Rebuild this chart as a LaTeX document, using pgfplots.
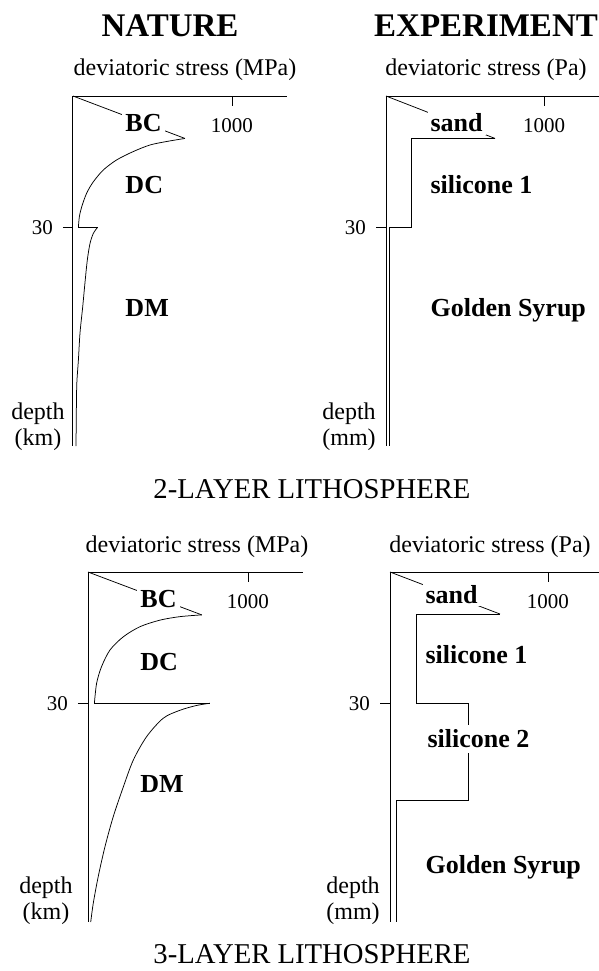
\documentclass[border=0pt]{standalone}
\usepackage{fontspec}
\setmainfont{Liberation Serif}
\usepackage{pgfplots}
\pgfplotsset{compat=1.18}

\pgfplotsset{
  panel/.style={
    scale only axis,
    anchor=north west,
    height=350pt,
    ymin=0, ymax=80, y dir=reverse,
    xmin=0,
    axis x line*=top, axis y line*=left,
    axis line style={line width=1pt, -},
    xtick={1000}, xticklabels={1000},
    ytick={30}, yticklabels={30},
    xtick align=inside, ytick align=outside,
    major tick length=10pt,
    tick style={line width=0.9pt, black},
    xticklabel style={anchor=north, inner sep=0pt, yshift=-22pt, font=\fontsize{21}{21}\selectfont},
    yticklabel style={anchor=east, inner sep=0pt, xshift=-10pt, font=\fontsize{21}{21}\selectfont},
    clip=false,
  },
}
\tikzset{
  curve/.style={black, line width=0.75pt},
  lab/.style={font=\fontsize{26}{26}\selectfont\bfseries, anchor=base west, inner sep=3pt, fill=white},
}

\begin{document}
\begin{tikzpicture}
\useasboundingbox (0,0) rectangle (599pt,-971pt);

% ---------- 2-layer, nature ----------
\begin{axis}[panel, at={(73pt,-96pt)}, width=214pt, xmax=1346]
\addplot[curve] coordinates {(0,0) (704,9.7)};
\addplot[curve, smooth] coordinates {(704,9.7) (589,10.4) (484,11.2) (379,12.7) (275,14.6) (191,16.9) (128,19.6) (86,22.2) (55,25.3) (40,27.6) (34,30)};
\addplot[curve] coordinates {(34,30) (155,30)};
\addplot[curve, smooth] coordinates {(155,30) (128,31.4) (107,33.7) (90,37.5) (75,42.8) (61,48.2) (44,54.2) (34,60.3) (24,65.7) (21,72) (19,80)};
\node[lab] at (axis cs:310,8.0) {BC};
\node[lab, fill=none] at (axis cs:310,22.2) {DC};
\node[lab, fill=none] at (axis cs:310,50.5) {DM};
\end{axis}

% ---------- 2-layer, experiment ----------
\begin{axis}[panel, at={(386pt,-96pt)}, width=213pt, xmax=1348]
\addplot[curve] coordinates {(0,0) (690,9.7)};
\addplot[curve] coordinates {(690,9.7) (158,9.7) (158,30) (21,30) (21,80)};
\node[lab] at (axis cs:262,8.2) {sand};
\node[lab, fill=none] at (axis cs:262,22.2) {silicone 1};
\node[lab, fill=none] at (axis cs:262,50.5) {Golden Syrup};
\end{axis}

% ---------- 3-layer, nature ----------
\begin{axis}[panel, at={(88pt,-572pt)}, width=215pt, xmax=1344]
\addplot[curve] coordinates {(0,0) (711,9.8)};
\addplot[curve, smooth] coordinates {(711,9.8) (575,10.2) (450,11.0) (325,12.5) (221,14.8) (138,17.8) (85,21.6) (54,25.4) (40,30)};
\addplot[curve] coordinates {(40,30) (762,30)};
\addplot[curve, smooth] coordinates {(762,30) (679,30.5) (575,31.6) (471,33.4) (367,37.6) (283,43.0) (221,49.1) (158,55.9) (106,62.8) (64,69.6) (33,75.7) (17,80)};
\node[lab] at (axis cs:308,8.2) {BC};
\node[lab, fill=none] at (axis cs:308,22.4) {DC};
\node[lab, fill=none] at (axis cs:308,50.5) {DM};
\end{axis}

% ---------- 3-layer, experiment ----------
\begin{axis}[panel, at={(390pt,-572pt)}, width=209pt, xmax=1323]
\addplot[curve] coordinates {(0,0) (696,9.6)};
\addplot[curve] coordinates {(696,9.6) (165,9.6) (165,30) (494,30) (494,52.3) (38,52.3) (38,80)};
\node[lab] at (axis cs:205,7.1) {sand};
\node[lab, fill=none] at (axis cs:205,21.0) {silicone 1};
\node[lab, inner sep=5pt] at (axis cs:205,40.2) {silicone 2};
\node[lab, fill=none] at (axis cs:205,68.8) {Golden Syrup};
\end{axis}

% ---------- outer texts ----------
\node[anchor=base, font=\fontsize{33}{33}\selectfont\bfseries] at (170pt,-37pt) {NATURE};
\node[anchor=base, font=\fontsize{33}{33}\selectfont\bfseries] at (486pt,-37pt) {EXPERIMENT};
\node[anchor=base, font=\fontsize{24}{24}\selectfont] at (185pt,-76pt) {deviatoric stress (MPa)};
\node[anchor=base, font=\fontsize{24}{24}\selectfont] at (486pt,-76pt) {deviatoric stress (Pa)};
\node[anchor=base, font=\fontsize{24}{24}\selectfont] at (197pt,-552pt) {deviatoric stress (MPa)};
\node[anchor=base, font=\fontsize{24}{24}\selectfont] at (490pt,-552pt) {deviatoric stress (Pa)};
\node[align=center, font=\fontsize{24}{26}\selectfont] at (38pt,-427pt) {depth\\(km)};
\node[align=center, font=\fontsize{24}{26}\selectfont] at (349pt,-427pt) {depth\\(mm)};
\node[align=center, font=\fontsize{24}{26}\selectfont] at (46pt,-901pt) {depth\\(km)};
\node[align=center, font=\fontsize{24}{26}\selectfont] at (353pt,-901pt) {depth\\(mm)};
\node[anchor=base, font=\fontsize{28.7}{28.7}\selectfont] at (312pt,-498pt) {2-LAYER LITHOSPHERE};
\node[anchor=base, font=\fontsize{28.7}{28.7}\selectfont, inner sep=0pt] at (312pt,-963pt) {3-LAYER LITHOSPHERE};
\end{tikzpicture}
\end{document}
